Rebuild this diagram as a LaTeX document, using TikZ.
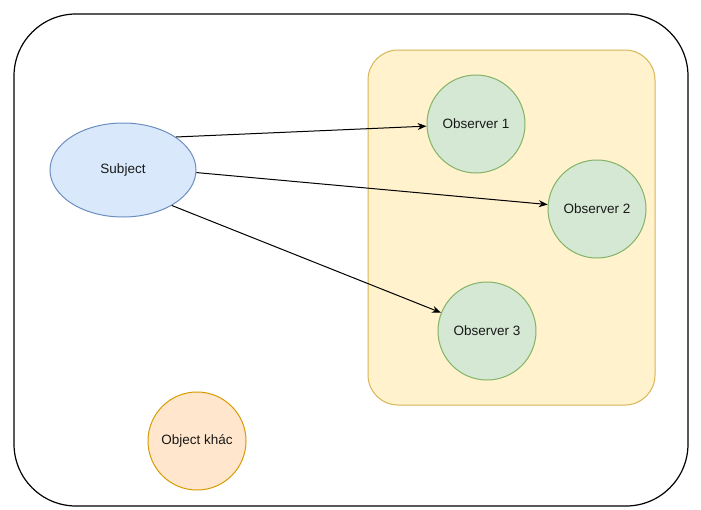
\documentclass[tikz,border=0pt]{standalone}
\usepackage{fontspec}
\setmainfont{Liberation Sans}
\usetikzlibrary{arrows.meta,shapes.geometric}
\definecolor{subfill}{HTML}{DAE8FC}
\definecolor{subdraw}{HTML}{6C8EBF}
\definecolor{obsfill}{HTML}{D5E8D4}
\definecolor{obsdraw}{HTML}{82B366}
\definecolor{grpfill}{HTML}{FFF2CC}
\definecolor{grpdraw}{HTML}{D6B656}
\definecolor{othfill}{HTML}{FFE6CC}
\definecolor{othdraw}{HTML}{D79B00}
\tikzset{
  lbl/.style={font=\fontsize{13.5}{15}\selectfont, text=black!90},
  obs/.style={lbl, circle, minimum size=98pt, inner sep=0pt, fill=obsfill, draw=obsdraw, line width=1pt},
  subj/.style={lbl, ellipse, minimum width=146pt, minimum height=94pt, inner sep=0pt, fill=subfill, draw=subdraw, line width=1pt},
  oth/.style={lbl, circle, minimum size=98pt, inner sep=0pt, fill=othfill, draw=othdraw, line width=1pt},
  conn/.style={draw=black, line width=1pt, -{Stealth[length=9pt,width=7pt]}}
}
\begin{document}
\begin{tikzpicture}[x=1pt,y=-1pt]
\useasboundingbox (0,0) rectangle (701,509);
\fill[white] (0,0) rectangle (701,509);
\draw[line width=1.2pt, rounded corners=62pt] (14,14) rectangle (688,506);
\draw[fill=grpfill, draw=grpdraw, line width=1pt, rounded corners=30pt] (368,50) rectangle (655,405);
\node[subj] (sub) at (123,170) {Subject};
\node[obs] (o1) at (476,124) {Observer 1};
\node[obs] (o2) at (597,209) {Observer 2};
\node[obs] (o3) at (487,331) {Observer 3};
\node[oth] (oth) at (197,441) {Object khác};
\draw[conn] (sub.32) -- (o1);
\draw[conn] (sub.-2) -- (o2);
\draw[conn] (sub.-36) -- (o3);
\end{tikzpicture}
\end{document}
